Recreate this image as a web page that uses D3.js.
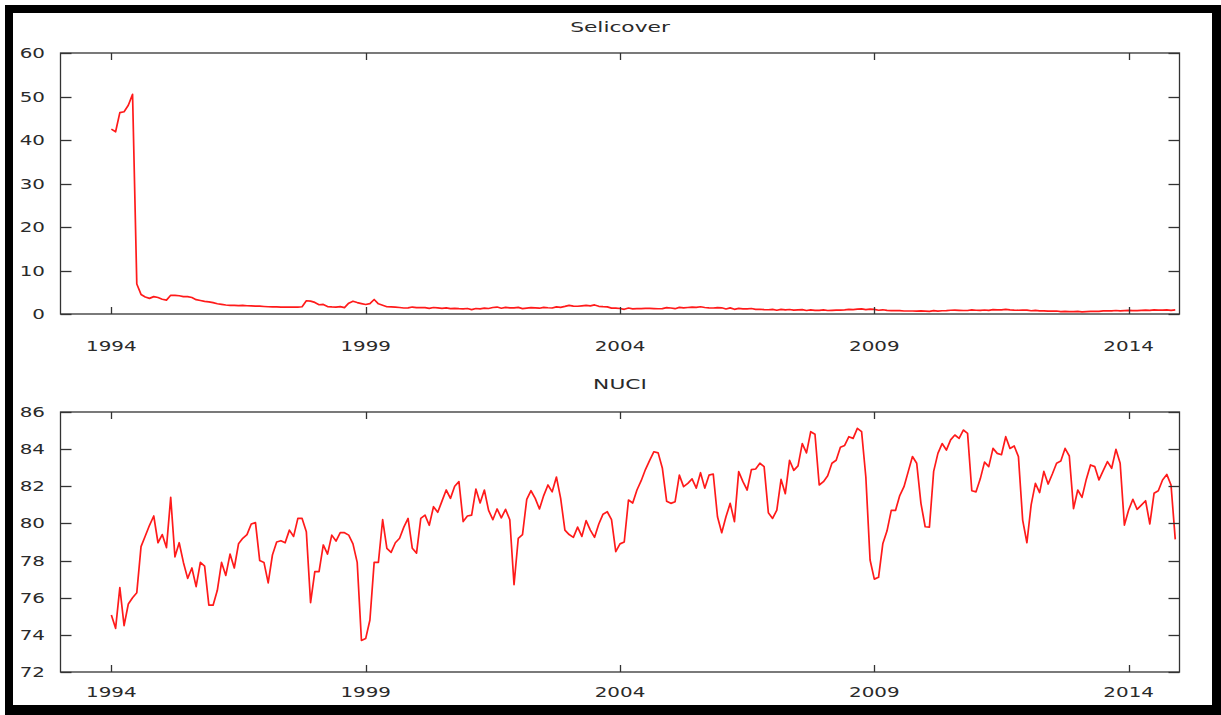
<!DOCTYPE html>
<html>
<head>
<meta charset="utf-8">
<script src="https://cdn.jsdelivr.net/npm/d3@7/dist/d3.min.js"></script>
<style>
  html, body { margin: 0; padding: 0; background: #fff; }
  svg { display: block; }
  text { font-family: "DejaVu Sans", Verdana, sans-serif; fill: #2a2a2a; }
</style>
</head>
<body>
<svg id="chart" width="1221" height="715"></svg>
<script>
// ---- data (monthly, Jan 1994 – Dec 2014) ----
const startYear = 1994;
const titles = ["Selicover", "NUCI"];
const xTickYears = [1994, 1999, 2004, 2009, 2014];
const selicTicks = [0, 10, 20, 30, 40, 50, 60];
const nuciTicks = [72, 74, 76, 78, 80, 82, 84, 86];

const selicover = [
  42.5, 41.9, 46.3, 46.5, 48.0, 50.5, 6.9, 4.5, 3.9, 3.6, 4.0, 3.8,
  3.4, 3.2, 4.3, 4.3, 4.2, 4.0, 4.0, 3.8, 3.3, 3.1, 2.9, 2.8,
  2.6, 2.35, 2.2, 2.07, 2.0, 1.98, 1.93, 1.97, 1.9, 1.86, 1.8, 1.8,
  1.73, 1.67, 1.64, 1.66, 1.58, 1.61, 1.6, 1.59, 1.59, 1.67, 3.04, 2.97,
  2.67, 2.13, 2.2, 1.71, 1.63, 1.6, 1.7, 1.48, 2.49, 2.94, 2.63, 2.4,
  2.18, 2.38, 3.33, 2.35, 2.02, 1.67, 1.66, 1.57, 1.49, 1.38, 1.39, 1.6,
  1.46, 1.45, 1.45, 1.3, 1.49, 1.39, 1.31, 1.41, 1.22, 1.29, 1.22, 1.2,
  1.27, 1.02, 1.26, 1.19, 1.34, 1.27, 1.5, 1.6, 1.32, 1.53, 1.39, 1.39,
  1.53, 1.25, 1.37, 1.48, 1.41, 1.33, 1.54, 1.44, 1.38, 1.65, 1.54, 1.74,
  1.97, 1.83, 1.78, 1.87, 1.97, 1.86, 2.08, 1.77, 1.68, 1.64, 1.34, 1.37,
  1.27, 1.08, 1.38, 1.18, 1.23, 1.23, 1.29, 1.29, 1.25, 1.21, 1.25, 1.48,
  1.38, 1.22, 1.53, 1.41, 1.5, 1.59, 1.51, 1.66, 1.5, 1.41, 1.38, 1.47,
  1.43, 1.15, 1.42, 1.08, 1.28, 1.18, 1.17, 1.26, 1.06, 1.09, 1.02, 0.98,
  1.08, 0.87, 1.05, 0.94, 1.03, 0.91, 0.97, 0.99, 0.8, 0.93, 0.84, 0.84,
  0.93, 0.8, 0.84, 0.9, 0.88, 0.96, 1.07, 1.02, 1.1, 1.18, 1.02, 1.12,
  1.05, 0.86, 0.97, 0.84, 0.77, 0.76, 0.79, 0.69, 0.69, 0.69, 0.66, 0.73,
  0.66, 0.59, 0.76, 0.67, 0.75, 0.79, 0.86, 0.89, 0.85, 0.81, 0.81, 0.93,
  0.86, 0.84, 0.92, 0.84, 0.99, 0.96, 0.97, 1.07, 0.94, 0.88, 0.86, 0.91,
  0.89, 0.75, 0.82, 0.71, 0.74, 0.64, 0.68, 0.69, 0.54, 0.61, 0.55, 0.55,
  0.6, 0.49, 0.55, 0.61, 0.6, 0.61, 0.72, 0.71, 0.71, 0.81, 0.72, 0.79,
  0.85, 0.79, 0.77, 0.82, 0.87, 0.82, 0.95, 0.87, 0.91, 0.95, 0.84, 0.96
];

const nuci = [
  75.07, 74.35, 76.54, 74.5, 75.66, 76.0, 76.27, 78.75, 79.32, 79.9, 80.4, 78.96,
  79.4, 78.7, 81.4, 78.2, 78.96, 77.9, 77.04, 77.6, 76.6, 77.9, 77.7, 75.6,
  75.6, 76.4, 77.9, 77.2, 78.35, 77.6, 78.9, 79.2, 79.4, 79.97, 80.04, 78.0,
  77.9, 76.8, 78.3, 79.0, 79.07, 78.96, 79.64, 79.3, 80.27, 80.27, 79.55, 75.73,
  77.4, 77.4, 78.84, 78.35, 79.37, 79.05, 79.5, 79.5, 79.37, 78.9, 77.9, 73.7,
  73.8, 74.8, 77.9, 77.9, 80.2, 78.66, 78.44, 78.96, 79.2, 79.8, 80.27, 78.66,
  78.4, 80.27, 80.45, 79.9, 80.9, 80.6, 81.2, 81.8, 81.35, 82.0, 82.25, 80.1,
  80.4, 80.45, 81.85, 81.1, 81.8, 80.7, 80.2, 80.78, 80.3, 80.76, 80.2, 76.7,
  79.2, 79.4, 81.3, 81.76, 81.35, 80.78, 81.5, 82.07, 81.7, 82.5, 81.35, 79.64,
  79.4, 79.25, 79.8, 79.3, 80.15, 79.64, 79.25, 79.97, 80.5, 80.63, 80.2, 78.48,
  78.9, 79.0, 81.26, 81.1, 81.8, 82.3, 82.9, 83.4, 83.86, 83.8, 82.97, 81.2,
  81.08, 81.17, 82.6, 81.98, 82.16, 82.4, 81.9, 82.73, 81.9, 82.6, 82.66, 80.36,
  79.5, 80.36, 81.08, 80.1, 82.79, 82.25, 81.8, 82.9, 82.93, 83.24, 83.06, 80.58,
  80.27, 80.72, 82.37, 81.6, 83.4, 82.86, 83.1, 84.3, 83.8, 84.94, 84.8, 82.07,
  82.25, 82.57, 83.24, 83.4, 84.1, 84.2, 84.67, 84.58, 85.12, 84.94, 82.5, 78.03,
  77.0, 77.1, 78.9, 79.6, 80.7, 80.7, 81.5, 81.98, 82.79, 83.6, 83.24, 81.08,
  79.82, 79.8, 82.8, 83.77, 84.3, 83.95, 84.5, 84.76, 84.58, 85.03, 84.85, 81.76,
  81.7, 82.4, 83.3, 83.06, 84.04, 83.77, 83.7, 84.67, 84.04, 84.17, 83.6, 80.18,
  78.96, 81.0, 82.16, 81.66, 82.8, 82.12, 82.66, 83.24, 83.36, 84.04, 83.63, 80.8,
  81.8, 81.4, 82.37, 83.15, 83.06, 82.34, 82.84, 83.33, 82.97, 83.99, 83.24, 79.91,
  80.72, 81.3, 80.76, 80.99, 81.22, 79.97, 81.62, 81.76, 82.34, 82.64, 82.07, 79.14
];

// ---- layout ----
const W = 1221, H = 715;
const svg = d3.select("#chart");
const SX = 1.42;          // horizontal stretch of glyphs in the reference
const FS = 14;            // font size
const axisColor = "#333";
const lineColor = "#ff1a1a";

// outer black frame
svg.append("rect").attr("x", 0).attr("y", 0).attr("width", W).attr("height", H).attr("fill", "#fff");
svg.append("path")
  .attr("d", `M5,5H${W}V${H}H5Z M13,13V705H1212V13Z`)
  .attr("fill", "#000").attr("fill-rule", "evenodd");

const x = d3.scaleLinear().domain([1993, 2015]).range([60.5, 1179.5]);

function stretchedText(g, tx, ty, str, anchor, fs, sx) {
  const gg = g.append("g").attr("transform", `translate(${tx},${ty}) scale(${sx || SX},1)`);
  gg.append("text").attr("x", 0).attr("y", 0)
    .attr("text-anchor", anchor).attr("font-size", fs || FS).text(str);
}

function panel(cfg) {
  const y = d3.scaleLinear().domain(cfg.domain).range([cfg.bottom, cfg.top]);
  const g = svg.append("g");
  const x0 = x.range()[0], x1 = x.range()[1];
  const y0 = y.range()[0], y1 = y.range()[1];

  // data line
  const line = d3.line()
    .x((d, i) => x(startYear + i / 12))
    .y(d => y(d));
  g.append("path").datum(cfg.values)
    .attr("d", line)
    .attr("fill", "none")
    .attr("stroke", lineColor)
    .attr("stroke-width", 1.7)
    .attr("stroke-linejoin", "round");

  // frame
  g.append("rect")
    .attr("x", x0).attr("y", y1)
    .attr("width", x1 - x0).attr("height", y0 - y1)
    .attr("fill", "none").attr("stroke", axisColor).attr("stroke-width", 1.3);

  // x ticks (inward, top and bottom)
  xTickYears.forEach(yr => {
    const px = Math.round(x(yr)) + 0.5;
    g.append("line").attr("x1", px).attr("x2", px).attr("y1", y0).attr("y2", y0 - 7)
      .attr("stroke", axisColor).attr("stroke-width", 1.3);
    g.append("line").attr("x1", px).attr("x2", px).attr("y1", y1).attr("y2", y1 + 7)
      .attr("stroke", axisColor).attr("stroke-width", 1.3);
    stretchedText(g, x(yr), cfg.xLabelBase, String(yr), "middle");
  });

  // y ticks (inward, left and right)
  cfg.ticks.forEach(t => {
    const py = Math.round(y(t)) + 0.5;
    g.append("line").attr("x1", x0).attr("x2", x0 + 11).attr("y1", py).attr("y2", py)
      .attr("stroke", axisColor).attr("stroke-width", 1.3);
    g.append("line").attr("x1", x1).attr("x2", x1 - 11).attr("y1", py).attr("y2", py)
      .attr("stroke", axisColor).attr("stroke-width", 1.3);
    stretchedText(g, 45, y(t) + 5, String(t), "end");
  });

  // title
  stretchedText(g, 620, cfg.titleBase, cfg.title, "middle", 14.5, 1.5);
}

panel({ title: titles[0], values: selicover, domain: [0, 60], top: 53, bottom: 314,
        ticks: selicTicks, xLabelBase: 351, titleBase: 32 });
panel({ title: titles[1], values: nuci, domain: [72, 86], top: 412, bottom: 672,
        ticks: nuciTicks, xLabelBase: 697, titleBase: 389 });
</script>
</body>
</html>
